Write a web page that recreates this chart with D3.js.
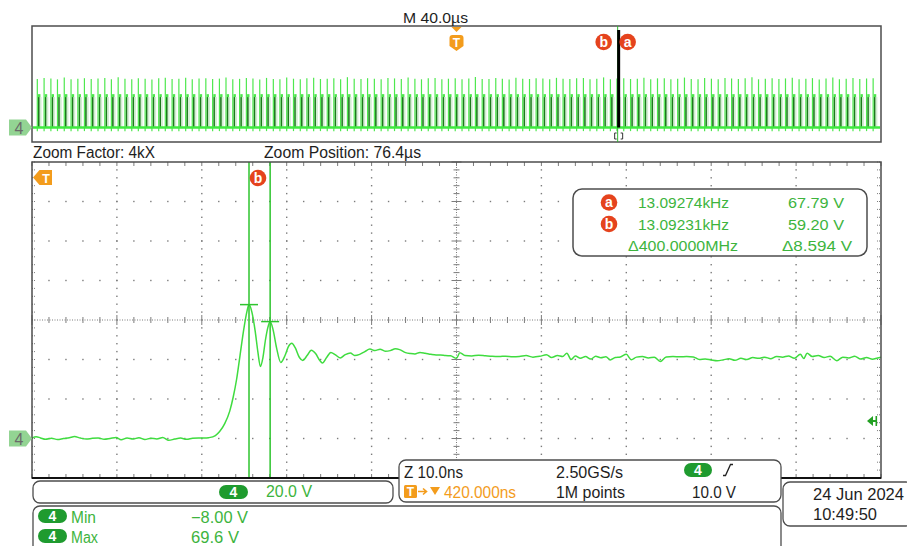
<!DOCTYPE html>
<html><head><meta charset="utf-8">
<script src="https://cdn.jsdelivr.net/npm/d3@7"></script>
<style>body{margin:0;background:#fff}svg{display:block}text{font-family:"Liberation Sans",Arial,sans-serif}</style>
</head><body><svg id="c" width="907" height="546"></svg>
<script>
// ---------- DATA ----------
// zoomed trace: time (ns from left edge of zoom window), voltage (V)
const traceT = [0,0.5,1.0,1.6,2.3,3.0,3.7,4.4,5.0,5.7,6.4,7.1,7.8,8.5,9.2,9.9,10.5,11.2,11.9,12.6,13.3,14.0,14.7,15.4,16.1,16.8,17.5,18.2,18.9,19.6,20.3,20.8,
 21.6,22.1,22.7,23.3,23.7,24.1,24.5,24.97,25.3,25.56,25.9,26.3,26.6,26.9,27.2,27.5,27.8,28.05,28.4,28.8,
 29.3,29.8,30.2,30.6,31.0,31.5,31.9,32.4,32.9,33.4,33.9,34.2,34.7,35.2,35.7,36.3,36.9,37.5,38.0,38.6,
 39.2,39.8,40.4,41.0,41.6,42.2,42.8,43.3,44.0,44.6,45.1,45.7,46.3,47.0,47.6,48.1,48.7,49.3,
 50.0,50.4,51.0,51.8,52.6,53.4,54.2,55.0,55.8,56.6,57.4,58.2,59.0,59.8,60.6,61.2,61.9,62.5,63.0,63.5,
 64.0,64.6,65.2,65.8,66.4,67.0,67.6,68.1,68.7,69.3,70.0,70.6,71.2,71.9,72.6,73.3,74.0,74.7,75.5,76.3,
 77.1,77.9,78.6,79.3,80.0,80.7,81.4,82.1,82.8,83.5,84.2,84.9,85.6,86.3,87.0,87.7,88.4,89.1,89.8,90.5,
 90.9,91.3,91.9,92.6,93.3,94.0,94.8,95.5,96.2,96.9,97.6,98.3,99.0,99.6,100.0];
const traceV = [0.2,0.9,0.3,-0.4,0.1,-0.5,0.0,0.4,1.0,0.2,-0.3,0.1,0.3,-0.4,0.0,0.5,-0.6,0.2,-0.3,0.4,-0.5,0.1,-0.2,0.5,-0.9,-0.3,0.2,-0.4,0.1,0.3,0.2,0.4,
 1.5,3.5,7.5,14,21,30,42,56,64,67.79,64,54,44,36.5,41,50,56.5,59.2,55,46,
 38.5,42,46.5,48.2,46,41,39.5,42,44.7,43,39.5,38.2,41,43.6,42.5,40.8,42.5,43.3,42,42.6,
 44,45.3,44.5,45.2,44.2,44.5,45.4,45,43.5,43,42.8,43.6,43.2,42.6,42.3,42.3,42,41.9,
 40.6,43.4,42.0,41.8,42.2,41.9,41.6,41.5,41.7,41.4,41.5,42.0,41.2,41.6,42.4,41.0,42.0,41.5,43.2,40.0,
 41.8,40.6,41.5,40.2,41.6,40.9,41.4,39.8,41.0,41.3,42.6,39.9,41.2,41.5,40.8,41.2,39.0,41.3,41.5,41.4,
 41.5,41.3,40.0,40.3,39.8,39.4,39.8,40.4,39.6,40.6,40.0,41.0,40.6,41.2,40.4,41.5,41.2,41.8,40.6,42.6,
 40.5,43.2,41.5,42.0,41.0,41.7,39.4,41.2,40.8,41.6,40.2,41.0,40.1,40.8,41.2];

// overview record: spike times (µs) and spike peak voltages (V)
const overviewT = [2.5,5.7,8.9,12.0,15.2,18.4,21.6,24.7,27.9,31.1,
 34.3,37.4,40.6,43.8,47.0,50.1,53.3,56.5,59.7,62.8,
 66.0,69.2,72.4,75.5,78.7,81.9,85.1,88.3,91.4,94.6,
 97.8,101.0,104.1,107.3,110.5,113.7,116.8,120.0,123.2,126.4,
 129.5,132.7,135.9,139.1,142.2,145.4,148.6,151.8,155.0,158.1,
 161.3,164.5,167.7,170.8,174.0,177.2,180.4,183.5,186.7,189.9,
 193.1,196.2,199.4,202.6,205.8,208.9,212.1,215.3,218.5,221.6,
 224.8,228.0,231.2,234.4,237.5,240.7,243.9,247.1,250.2,253.4,
 256.6,259.8,262.9,266.1,269.3,272.5,275.6,278.8,282.0,285.2,
 288.3,291.5,294.7,297.9,301.0,304.2,307.4,310.6,313.8,316.9,
 320.1,323.3,326.5,329.6,332.8,336.0,339.2,342.3,345.5,348.7,
 351.9,355.0,358.2,361.4,364.6,367.7,370.9,374.1,377.3,380.4,
 383.6,386.8,390.0,393.2,396.3];
const overviewPeak = [66.8,68.2,67.5,66.4,68.9,66.6,67.4,68.0,66.9,67.7,
 68.3,66.5,69.2,67.1,66.7,68.1,67.3,66.2,67.9,68.5,
 66.8,67.2,68.7,66.4,67.6,68.0,66.9,67.4,68.8,66.6,
 67.1,68.2,67.5,66.3,68.4,67.0,66.7,69.0,67.3,66.5,
 67.8,68.6,66.9,67.2,68.1,66.6,69.4,67.4,66.8,68.0,
 67.1,66.4,68.3,67.7,66.9,68.9,67.2,66.5,67.9,68.4,
 66.7,67.3,68.1,66.6,67.5,69.6,67.0,66.8,68.2,67.4,
 66.3,68.7,67.1,66.9,68.0,67.6,66.5,68.5,67.2,66.8,
 67.9,68.3,66.4,67.3,69.1,66.7,67.5,68.1,66.9,67.2,
 68.6,66.6,67.8,68.0,66.5,67.4,68.9,67.0,66.7,68.2,
 67.3,66.4,68.4,67.6,66.8,67.9,69.3,66.5,67.1,68.0,
 66.9,67.7,68.5,66.6,67.2,68.1,66.3,67.5,68.8,66.7,
 67.3,68.2,66.9,67.6,68.0];
const overviewSettle = 42;          // V, settled level of each burst
const overviewTrigger = 200;        // µs
const overviewZoomPos = 276.4;      // µs (trigger + 76.4 µs)

// cursors (zoom window)
const cursorT = [25.56, 28.05];
const cursorV = [67.79, 59.20];
const cursorNames = ["a", "b"];
const cursorFreq = ["13.09274kHz", "13.09231kHz"];
const cursorVolt = ["67.79 V", "59.20 V"];
const deltaFreq = "Δ400.0000MHz";
const deltaVolt = "Δ8.594 V";

// ---------- DRAW ----------
const svg = d3.select('#c');
svg.append('rect').attr('width',907).attr('height',546).attr('fill','#fff');

const GREEN='#3fdc3f', TXTG='#3db43d', PILL='#1f9b2f', ORANGE='#f39c1c', RED='#e5431d', BORDER='#4d4d4d', GRID='#7c7c7c';

function txt(s,x,yb,w,o={}) {
  const t = svg.append('text').attr('x',x).attr('y',yb).text(s)
    .attr('font-size',o.size||16).attr('fill',o.fill||'#1e1e1e');
  if (o.anchor) t.attr('text-anchor',o.anchor);
  if (o.weight) t.attr('font-weight',o.weight);
  if (w) t.attr('textLength',w).attr('lengthAdjust','spacingAndGlyphs');
  return t;
}
function pill(x,y,w,h){
  svg.append('rect').attr('x',x).attr('y',y).attr('width',w).attr('height',h).attr('rx',h/2).attr('fill',PILL);
  txt('4',x+w/2,y+h-2,null,{size:14,fill:'#fff',anchor:'middle',weight:'bold'});
}
function circ(cx,cy,l){
  svg.append('circle').attr('cx',cx).attr('cy',cy).attr('r',8.3).attr('fill',RED);
  txt(l,cx,cy+4.5,null,{size:14,fill:'#fff',anchor:'middle',weight:'bold'});
}
function chMarker(cy){
  svg.append('path').attr('d',`M9,${cy-8}h17l6,8l-6,8h-17z`).attr('fill','#93d493');
  txt('4',19,cy+6,null,{size:16,fill:'#6a6a6a',anchor:'middle'});
}

// ===== overview panel =====
const xo = d3.scaleLinear().domain([0,400]).range([32,881]);
const yo = d3.scaleLinear().domain([-20,140]).range([142,26]);
svg.append('rect').attr('x',32).attr('y',26).attr('width',849).attr('height',116)
  .attr('fill','#fff').attr('stroke',BORDER).attr('stroke-width',1.5);

const sp = svg.append('g');
overviewT.forEach((t,i)=>{
  const xs = xo(t);
  sp.append('rect').attr('x',xs+2.4).attr('y',yo(overviewSettle)).attr('width',1.8)
    .attr('height',yo(0)-yo(overviewSettle)).attr('fill','#6cc46c').attr('opacity',0.3);
  sp.append('rect').attr('x',xs+0.7).attr('y',yo(overviewSettle)).attr('width',1.6)
    .attr('height',yo(0)-yo(overviewSettle)).attr('fill','#1c7a1c');
  sp.append('rect').attr('x',xs+0.7).attr('y',yo(overviewSettle+4)).attr('width',2.4)
    .attr('height',yo(overviewSettle)-yo(overviewSettle+4)).attr('fill','#4de64d');
  sp.append('line').attr('x1',xs).attr('x2',xs).attr('y1',yo(-5)).attr('y2',yo(overviewPeak[i]))
    .attr('stroke','#4ee84e').attr('stroke-width',1.2);
});
svg.append('line').attr('x1',33).attr('x2',880).attr('y1',yo(0)).attr('y2',yo(0))
  .attr('stroke','#3fea3f').attr('stroke-width',2.6);

// zoom cursor in overview
const xz = xo(overviewZoomPos);
svg.append('line').attr('x1',xz-1).attr('x2',xz-1).attr('y1',26).attr('y2',142).attr('stroke','#2fb82f').attr('stroke-width',1);
svg.append('line').attr('x1',xz).attr('x2',xz).attr('y1',30).attr('y2',yo(0)).attr('stroke','#000').attr('stroke-width',3);
svg.append('path').attr('d',`M${xz-2},133h-2v6h2M${xz+2},133h2v6h-2`).attr('fill','none').attr('stroke','#333').attr('stroke-width',1);
circ(xz-15,42,'b'); circ(xz+9,42,'a');

// trigger marker overview
const xt = xo(overviewTrigger);
svg.append('path').attr('d',`M${xt-5},27h10l-5,5z`).attr('fill',ORANGE);
svg.append('path').attr('d',`M${xt-7},38q0,-3 3,-3h8q3,0 3,3v8l-7,5l-7,-5z`).attr('fill',ORANGE);
txt('T',xt,47,null,{size:12,fill:'#fff',anchor:'middle',weight:'bold'});
txt('M 40.0µs',403,22.5,65,{size:15});
chMarker(yo(0));

txt('Zoom Factor: 4kX',33,158,122);
txt('Zoom Position: 76.4µs',264,158,157);

// ===== main panel =====
const X0=32,X1=881,Y0=162,Y1=478;
const x = d3.scaleLinear().domain([0,100]).range([X0,X1]);
const y = d3.scaleLinear().domain([-20,140]).range([Y1,Y0]);
svg.append('rect').attr('x',X0).attr('y',Y0).attr('width',X1-X0).attr('height',Y1-Y0).attr('fill','#fff');

const g = svg.append('g');
const majX = x.ticks(10), majY = d3.range(-20,140.1,20);
const minX = d3.range(0,100.01,2), minY = d3.range(-20,140.01,4);
majX.filter(v=>v>0&&v<100&&v!==50).forEach(v=>{
  minY.filter(m=>m>-20&&m<140).forEach(m=>{
    g.append('rect').attr('x',x(v)-0.7).attr('y',y(m)-0.7).attr('width',1.4).attr('height',1.4).attr('fill',GRID);
  });
});
majY.filter(v=>v>-20&&v<140&&v!==60).forEach(v=>{
  minX.filter(m=>m>0&&m<100).forEach(m=>{
    g.append('rect').attr('x',x(m)-0.7).attr('y',y(v)-0.7).attr('width',1.4).attr('height',1.4).attr('fill',GRID);
  });
});
g.append('line').attr('x1',X0).attr('x2',X1).attr('y1',y(60)).attr('y2',y(60)).attr('stroke',GRID).attr('stroke-width',1).attr('stroke-dasharray','1,1.5');
g.append('line').attr('x1',x(50)).attr('x2',x(50)).attr('y1',Y0).attr('y2',Y1).attr('stroke',GRID).attr('stroke-width',1).attr('stroke-dasharray','1,1.5');
minX.forEach(m=>{ const L = (m%10===0)?5:3;
  g.append('line').attr('x1',x(m)).attr('x2',x(m)).attr('y1',y(60)-L).attr('y2',y(60)+L).attr('stroke',GRID).attr('stroke-width',1);
  g.append('line').attr('x1',x(m)).attr('x2',x(m)).attr('y1',Y0).attr('y2',Y0+4).attr('stroke',GRID).attr('stroke-width',1);
  g.append('line').attr('x1',x(m)).attr('x2',x(m)).attr('y1',Y1-4).attr('y2',Y1).attr('stroke',GRID).attr('stroke-width',1);
});
minY.forEach(m=>{ const L = ((m+20)%20===0)?5:3;
  g.append('line').attr('x1',x(50)-L).attr('x2',x(50)+L).attr('y1',y(m)).attr('y2',y(m)).attr('stroke',GRID).attr('stroke-width',1);
  g.append('line').attr('x1',X0).attr('x2',X0+4).attr('y1',y(m)).attr('y2',y(m)).attr('stroke',GRID).attr('stroke-width',1).attr('stroke-dasharray','1,1');
  g.append('line').attr('x1',X1-4).attr('x2',X1).attr('y1',y(m)).attr('y2',y(m)).attr('stroke',GRID).attr('stroke-width',1).attr('stroke-dasharray','1,1');
});

// trace
const pts = traceT.map((t,i)=>[t,traceV[i]]);
svg.append('path').datum(pts).attr('fill','none').attr('stroke',GREEN).attr('stroke-width',1.5)
  .attr('d',d3.line().x(d=>x(d[0])).y(d=>y(d[1])).curve(d3.curveMonotoneX));

// cursors
cursorT.forEach((t,i)=>{
  svg.append('line').attr('x1',x(t)).attr('x2',x(t)).attr('y1',Y0).attr('y2',Y1).attr('stroke','#2ec42e').attr('stroke-width',1.5);
  svg.append('line').attr('x1',x(t)-9).attr('x2',x(t)+9).attr('y1',y(cursorV[i])).attr('y2',y(cursorV[i])).attr('stroke','#2ec42e').attr('stroke-width',1.5);
});
circ(x(cursorT[0])+9,178,'b');

// trigger marker in main
svg.append('path').attr('d','M33,177.5L39.5,170H52V185H39.5Z').attr('fill',ORANGE);
txt('T',46,182.5,null,{size:12.5,fill:'#fff',anchor:'middle',weight:'bold'});
// trigger-level arrow (right)
svg.append('path').attr('d','M867,421l6,-5v10z').attr('fill','#23a023');
svg.append('rect').attr('x',872).attr('y',420).attr('width',4).attr('height',2).attr('fill','#23a023');
svg.append('rect').attr('x',875.5).attr('y',416).attr('width',1.6).attr('height',10).attr('fill','#23a023');

// readout box
svg.append('rect').attr('x',573).attr('y',189).attr('width',294).attr('height',67).attr('rx',9)
  .attr('fill','#fff').attr('stroke',BORDER).attr('stroke-width',1.5);
[202.5,224].forEach((cy,i)=>{
  circ(609,cy,cursorNames[i]);
  txt(cursorFreq[i],638,cy+5.5,91,{size:15,fill:TXTG});
  txt(cursorVolt[i],788,cy+5.5,56,{size:15,fill:TXTG});
});
txt(deltaFreq,628,250.5,110,{size:15,fill:TXTG});
txt(deltaVolt,782,250.5,70,{size:15,fill:TXTG});

// main border
svg.append('rect').attr('x',X0).attr('y',Y0).attr('width',X1-X0).attr('height',Y1-Y0)
  .attr('fill','none').attr('stroke',BORDER).attr('stroke-width',1.5);
svg.append('line').attr('x1',X0).attr('x2',X1).attr('y1',Y1).attr('y2',Y1).attr('stroke','#111').attr('stroke-width',2);
chMarker(y(0));

// ===== bottom panels =====
function box(x0,y0,w,h){ svg.append('rect').attr('x',x0).attr('y',y0).attr('width',w).attr('height',h).attr('rx',7)
  .attr('fill','#fff').attr('stroke',BORDER).attr('stroke-width',1.3); }
box(33,481,360,22);
pill(219,485,29,14);
txt('20.0 V',266,497,46,{fill:TXTG});

box(399,460,382,42);
txt('Z 10.0ns',404,477.5,59);
txt('2.50GS/s',556,477.5,67);
pill(684,463,28,14);
svg.append('path').attr('d','M723,475.5h2.5l5,-11h2.5').attr('fill','none').attr('stroke','#222').attr('stroke-width',1.3);
svg.append('rect').attr('x',404).attr('y',485).attr('width',13).attr('height',13).attr('rx',1.5).attr('fill',ORANGE);
txt('T',410.5,496,null,{size:12,fill:'#fff',anchor:'middle',weight:'bold'});
svg.append('path').attr('d','M418,491.5h8M423,488.5l3.5,3l-3.5,3').attr('fill','none').attr('stroke',ORANGE).attr('stroke-width',1.6);
svg.append('path').attr('d','M430,487h10l-5,8z').attr('fill',ORANGE);
txt('420.000ns',444,497.5,72,{fill:ORANGE});
txt('1M points',556,497.5,69);
txt('10.0 V',692,497.5,44);

box(33,506,748,60);
pill(38,509,29,14);
txt('Min',71,522.5,25,{fill:TXTG});
txt('−8.00 V',191,522.5,57,{fill:TXTG});
pill(38,529,29,14);
txt('Max',71,542.5,27,{fill:TXTG});
txt('69.6 V',191,542.5,48,{fill:TXTG});

box(783,482,130,44);
txt('24 Jun  2024',813,500,91);
txt('10:49:50',813,520,64);
</script></body></html>
